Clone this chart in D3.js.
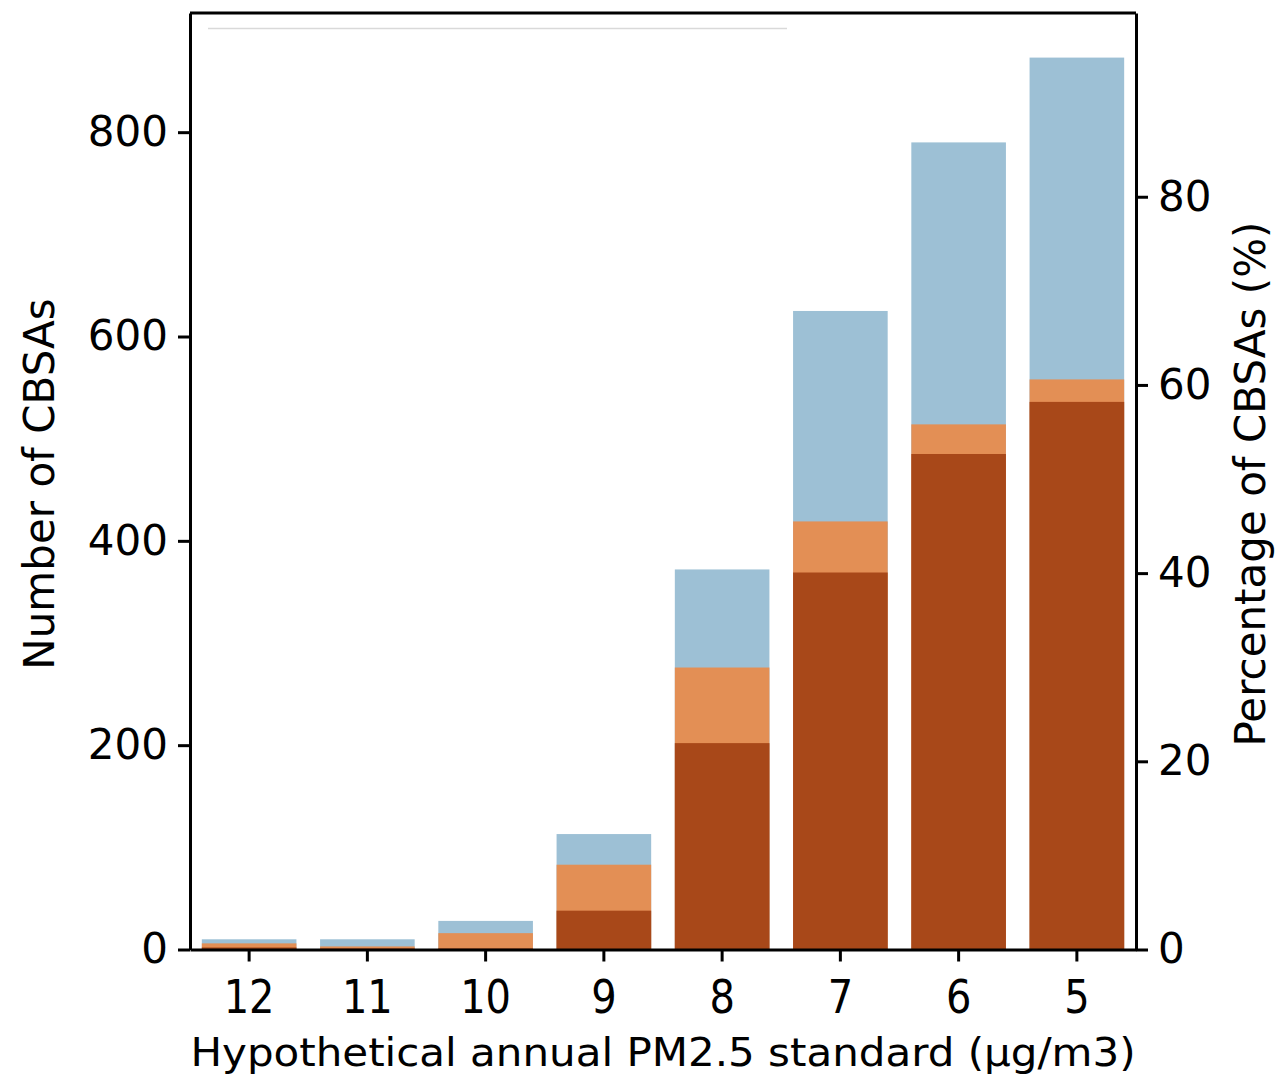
<!DOCTYPE html>
<html>
<head>
<meta charset="utf-8">
<script src="https://cdn.jsdelivr.net/npm/d3@7"></script>
<style>
  body { margin: 0; background: #fff; }
  text { font-family: 'DejaVu Sans', sans-serif; fill: #000; }
</style>
</head>
<body>
<svg id="chart" width="1275" height="1078"></svg>
<script>
// hypothetical annual PM2.5 standard (µg/m3)
const standards = ['12', '11', '10', '9', '8', '7', '6', '5'];
// number of CBSAs, three overlapping series (back to front)
const seriesBlue = [10, 10, 28, 113, 372, 625, 790, 873];
const seriesOrange = [6, 3, 16, 83, 276, 419, 514, 558];
const seriesDark = [2, 1, 1, 38, 202, 369, 485, 536];
const totalCBSAs = 921;
const leftTicks = [0, 200, 400, 600, 800];
const rightTicks = [0, 20, 40, 60, 80];

const W = 1275, H = 1078;
const margin = { top: 13, right: 139, bottom: 128.5, left: 190 };
const innerW = W - margin.left - margin.right;
const innerH = H - margin.top - margin.bottom;

const svg = d3.select('#chart');
const g = svg.append('g').attr('transform', `translate(${margin.left},${margin.top})`);

const x = d3.scaleBand().domain(standards).range([0, innerW]).paddingInner(0.2).paddingOuter(0.1);

const yMax = d3.max(seriesBlue) * 1.05;
const y = d3.scaleLinear().domain([0, yMax]).range([innerH, 0]);
const yPct = d3.scaleLinear().domain([0, yMax / totalCBSAs * 100]).range([innerH, 0]);

const layers = [
  { values: seriesBlue, color: '#9dc0d5' },
  { values: seriesOrange, color: '#e38f55' },
  { values: seriesDark, color: '#a84819' }
];

layers.forEach(layer => {
  g.append('g')
    .selectAll('rect')
    .data(layer.values)
    .enter()
    .append('rect')
    .attr('x', (d, i) => x(standards[i]))
    .attr('width', x.bandwidth())
    .attr('y', d => y(d))
    .attr('height', d => innerH - y(d))
    .attr('fill', layer.color);
});

// faint line left near the top (empty legend remnant)
g.append('line')
  .attr('x1', 18).attr('x2', 597)
  .attr('y1', 15.5).attr('y2', 15.5)
  .attr('stroke', '#d9d9d9')
  .attr('stroke-width', 1.5);

// axes
const styleAxis = sel => {
  sel.selectAll('path').attr('stroke', '#000').attr('stroke-width', 3);
  sel.selectAll('.tick line').attr('stroke', '#000').attr('stroke-width', 3);
  sel.selectAll('.tick text').style('font-size', '42px');
};

g.append('g')
  .attr('transform', `translate(0,${innerH})`)
  .call(d3.axisBottom(x).tickSize(12).tickPadding(10).tickSizeOuter(0))
  .call(styleAxis)
  .call(a => a.selectAll('.tick text')
    .style('font-size', '40px')
    .attr('y', 0)
    .attr('dy', '0.36em')
    .attr('transform', 'translate(0,46.5) scale(1,1.16)'));

g.append('g')
  .call(d3.axisLeft(y).tickValues(leftTicks).tickSize(12).tickPadding(10).tickSizeOuter(0))
  .call(styleAxis);

g.append('g')
  .attr('transform', `translate(${innerW},0)`)
  .call(d3.axisRight(yPct).tickValues(rightTicks).tickSize(12).tickPadding(10).tickSizeOuter(0))
  .call(styleAxis);

// top spine
g.append('line')
  .attr('x1', 0).attr('x2', innerW)
  .attr('y1', 0).attr('y2', 0)
  .attr('stroke', '#000').attr('stroke-width', 3);

// axis labels
svg.append('text')
  .attr('transform', `translate(${margin.left + innerW / 2},1066) scale(1,0.92)`)
  .attr('text-anchor', 'middle')
  .style('font-size', '42px')
  .text('Hypothetical annual PM2.5 standard (µg/m3)');

svg.append('text')
  .attr('transform', 'translate(54,484) rotate(-90)')
  .attr('text-anchor', 'middle')
  .style('font-size', '42px')
  .text('Number of CBSAs');

svg.append('text')
  .attr('transform', 'translate(1265,484) rotate(-90)')
  .attr('text-anchor', 'middle')
  .style('font-size', '42px')
  .text('Percentage of CBSAs (%)');
</script>
</body>
</html>
